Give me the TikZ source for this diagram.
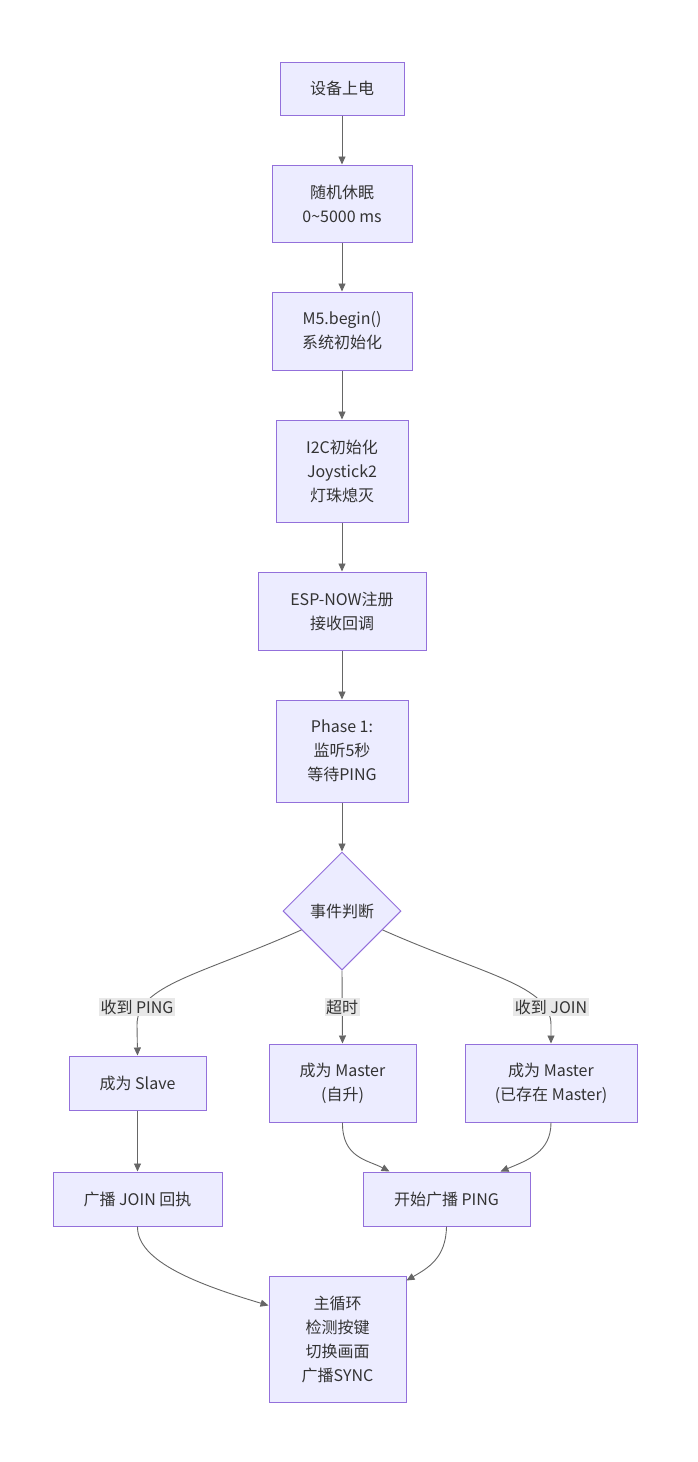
\documentclass[tikz,border=0pt]{standalone}
\usepackage{fontspec}
\setmainfont{Noto Sans CJK SC}
\usetikzlibrary{arrows.meta,shapes.geometric}
\definecolor{boxfill}{HTML}{ECECFF}
\definecolor{boxline}{HTML}{9370DB}
\definecolor{txt}{HTML}{333333}
\definecolor{edgeline}{HTML}{666666}
\definecolor{lblfill}{HTML}{E8E8E8}
\tikzset{
  box/.style={draw=boxline,fill=boxfill,text=txt,line width=1pt,inner sep=0pt,align=center,
    font=\fontsize{16}{24}\selectfont},
  decide/.style={box,diamond,aspect=1,minimum width=118,minimum height=118},
  lbl/.style={fill=lblfill,text=txt,inner sep=1.5pt,font=\fontsize{16}{24}\selectfont},
  arr/.style={draw=edgeline,line width=0.9pt,-{Triangle[length=8pt,width=7pt]}}
}
\begin{document}
\begin{tikzpicture}[x=1pt,y=-1pt]
  \useasboundingbox (0,0) rectangle (697,1462);
  % start-up chain
  \node[box,minimum width=124,minimum height=53] (power) at (342,88.5) {设备上电};
  \node[box,minimum width=140,minimum height=77] (sleep) at (342,203.5) {随机休眠\\0\textasciitilde5000 ms};
  \node[box,minimum width=140,minimum height=78] (begin) at (342,331) {M5.begin()\\系统初始化};
  \node[box,minimum width=132,minimum height=102] (i2c) at (342,471) {I2C初始化\\Joystick2\\灯珠熄灭};
  \node[box,minimum width=168,minimum height=78] (espnow) at (342,611) {ESP-NOW注册\\接收回调};
  \node[box,minimum width=132,minimum height=102] (phase) at (342,751) {Phase 1:\\监听5秒\\等待PING};
  \node[decide] (event) at (342,911) {事件判断};
  \foreach \a/\b in {power/sleep,sleep/begin,begin/i2c,i2c/espnow,espnow/phase,phase/event}
    \draw[arr] (\a) -- (\b);
  % roles
  \node[box,minimum width=137,minimum height=54] (slave) at (137.5,1083) {成为 Slave};
  \node[box,minimum width=147,minimum height=78] (self) at (342.5,1083) {成为 Master\\(自升)};
  \node[box,minimum width=172,minimum height=78] (exist) at (551,1083) {成为 Master\\(已存在 Master)};
  \node[box,minimum width=169,minimum height=54] (join) at (137.5,1199) {广播 JOIN 回执};
  \node[box,minimum width=167,minimum height=54] (ping) at (446.5,1199) {开始广播 PING};
  \node[box,minimum width=137,minimum height=126] (loop) at (337.5,1339) {主循环\\检测按键\\切换画面\\广播SYNC};
  % branches out of the decision
  \draw[arr] (event.205) .. controls (200,975) and (137,985) .. (137,1025) -- (slave.north);
  \draw[arr] (event.south) -- (self.north);
  \draw[arr] (event.335) .. controls (484,975) and (551,985) .. (551,1025) -- (exist.north);
  \node[lbl] (gotping) at (137,1007) {收到 PING};
  \node[lbl] (timeout) at (342,1007) {超时};
  \node[lbl] (gotjoin) at (551,1007) {收到 JOIN};
  % merging
  \draw[arr] (slave) -- (join);
  \draw[arr] (self.south) .. controls (342,1158) and (368,1160) .. ([xshift=27]ping.north west);
  \draw[arr] (exist.south) .. controls (551,1152) and (528,1160) .. ([xshift=-30]ping.north east);
  \draw[arr] (join.south) .. controls (137,1262) and (200,1285) .. ([yshift=-30]loop.north west);
  \draw[arr] (ping.south) .. controls (446,1258) and (428,1268) .. ([yshift=-5]loop.north east);
\end{tikzpicture}
\end{document}
